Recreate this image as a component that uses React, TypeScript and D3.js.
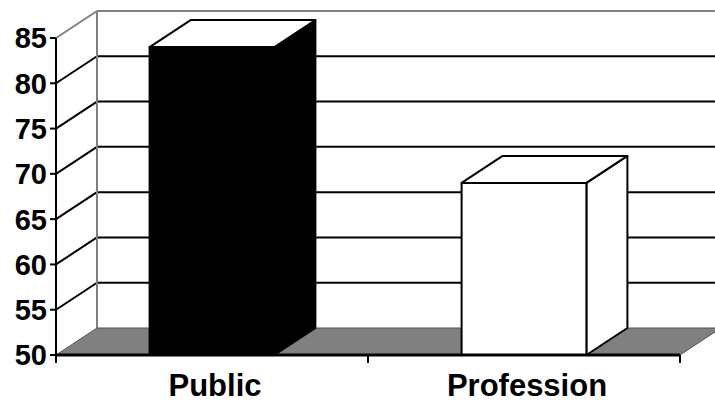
import React from "react";
import * as d3 from "d3";

const categories = ["Public", "Profession"];
const values = [84, 69];
const barColors = ["#000000", "#ffffff"];
const yTicks = [50, 55, 60, 65, 70, 75, 80, 85];

const W = 715;
const H = 402;
const DX = 41;
const DY = -27;

export default function App() {
  const y = d3.scaleLinear().domain([50, 85]).range([355, 38]);
  const x = d3.scaleBand<string>().domain(categories).range([56, 680]).padding(0);
  const left = 56;
  const right = 680;
  const bottom = y(50);
  const top = y(85);
  const barW = x.bandwidth() * 0.4;
  const sw = 2;

  const poly = (pts: [number, number][]) => pts.map((p) => p.join(",")).join(" ");

  return (
    <svg
      width={W}
      height={H}
      style={{ position: "fixed", left: 0, top: 0, background: "#fff" }}
      fontFamily="'Liberation Sans', Arial, sans-serif"
      fontWeight="bold"
    >
      {/* back wall gridlines */}
      {yTicks.slice(1, -1).map((t) => (
        <line key={"g" + t} x1={left + DX} x2={right + DX + 20} y1={y(t) + DY} y2={y(t) + DY} stroke="#000" strokeWidth={sw} />
      ))}
      {/* side wall diagonals */}
      {yTicks.slice(1, -1).map((t) => (
        <line key={"s" + t} x1={left} x2={left + DX} y1={y(t)} y2={y(t) + DY} stroke="#000" strokeWidth={sw} />
      ))}
      {/* wall borders */}
      <line x1={left} y1={top} x2={left + DX} y2={top + DY} stroke="#808080" strokeWidth={sw} />
      <line x1={left + DX} y1={top + DY} x2={right + DX + 20} y2={top + DY} stroke="#808080" strokeWidth={sw} />
      <line x1={left + DX} y1={top + DY} x2={left + DX} y2={bottom + DY} stroke="#808080" strokeWidth={sw} />
      {/* floor */}
      <polygon
        points={poly([
          [left, bottom],
          [left + DX, bottom + DY],
          [right + DX, bottom + DY],
          [right, bottom],
        ])}
        fill="#808080"
        stroke="#555"
        strokeWidth={1}
      />
      {/* bars */}
      {categories.map((c, i) => {
        const x0 = (x(c) as number) + (x.bandwidth() - barW) / 2;
        const x1 = x0 + barW;
        const yt = y(values[i]);
        const fill = barColors[i];
        return (
          <g key={c} stroke="#000" strokeWidth={sw} strokeLinejoin="round">
            <polygon points={poly([[x1, yt], [x1 + DX, yt + DY], [x1 + DX, bottom + DY], [x1, bottom]])} fill={fill} />
            <polygon points={poly([[x0, yt], [x0 + DX, yt + DY], [x1 + DX, yt + DY], [x1, yt]])} fill="#fff" />
            <rect x={x0} y={yt} width={barW} height={bottom - yt} fill={fill} />
          </g>
        );
      })}
      {/* front axes */}
      <line x1={left} y1={top} x2={left} y2={bottom} stroke="#000" strokeWidth={sw} />
      <line x1={left} y1={bottom} x2={right} y2={bottom} stroke="#000" strokeWidth={sw + 1} />
      {yTicks.map((t) => (
        <g key={"t" + t}>
          <line x1={left - 6} x2={left} y1={y(t)} y2={y(t)} stroke="#000" strokeWidth={sw} />
          <text x={47} y={y(t)} dy="0.36em" textAnchor="end" fontSize={29}>
            {t}
          </text>
        </g>
      ))}
      {[left, ...categories.map((c) => (x(c) as number) + x.bandwidth())].map((tx, i) => (
        <line key={"xt" + i} x1={tx} x2={tx} y1={bottom} y2={bottom + 8} stroke="#000" strokeWidth={sw} />
      ))}
      {categories.map((c) => (
        <text key={"l" + c} x={(x(c) as number) + x.bandwidth() / 2 + 3} y={396} textAnchor="middle" fontSize={31}>
          {c}
        </text>
      ))}
    </svg>
  );
}
